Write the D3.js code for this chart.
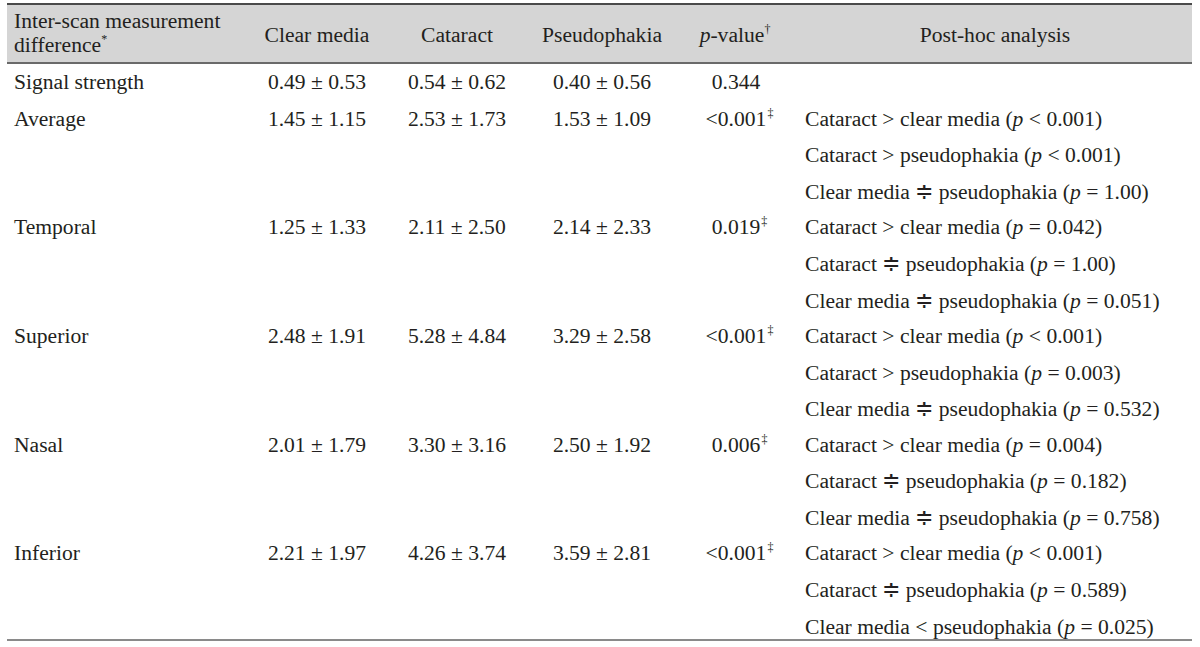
<!DOCTYPE html>
<html>
<head>
<meta charset="utf-8">
<script src="https://cdn.jsdelivr.net/npm/d3@7"></script>
<style>
  html, body { margin: 0; padding: 0; background: #fff; }
  svg { display: block; }
  text { font-family: "Liberation Serif", "Times New Roman", serif; fill: #231f20; }
</style>
</head>
<body>
<svg id="chart" width="1200" height="647"></svg>
<script>
// ---- data ----
const columns = ["Clear media", "Cataract", "Pseudophakia"];
const parameters = ["Signal strength", "Average", "Temporal", "Superior", "Nasal", "Inferior"];
const clearMean = [0.49, 1.45, 1.25, 2.48, 2.01, 2.21];
const clearSD   = [0.53, 1.15, 1.33, 1.91, 1.79, 1.97];
const catMean   = [0.54, 2.53, 2.11, 5.28, 3.30, 4.26];
const catSD     = [0.62, 1.73, 2.50, 4.84, 3.16, 3.74];
const pseudoMean = [0.40, 1.53, 2.14, 3.29, 2.50, 3.59];
const pseudoSD   = [0.56, 1.09, 2.33, 2.58, 1.92, 2.81];
const pValues = ["0.344", "<0.001", "0.019", "<0.001", "0.006", "<0.001"];
const pMark   = ["", "\u2021", "\u2021", "\u2021", "\u2021", "\u2021"];
const postHoc = [
  [],
  ["Cataract > clear media (p < 0.001)", "Cataract > pseudophakia (p < 0.001)", "Clear media \u2251 pseudophakia (p = 1.00)"],
  ["Cataract > clear media (p = 0.042)", "Cataract \u2251 pseudophakia (p = 1.00)", "Clear media \u2251 pseudophakia (p = 0.051)"],
  ["Cataract > clear media (p < 0.001)", "Cataract > pseudophakia (p = 0.003)", "Clear media \u2251 pseudophakia (p = 0.532)"],
  ["Cataract > clear media (p = 0.004)", "Cataract \u2251 pseudophakia (p = 0.182)", "Clear media \u2251 pseudophakia (p = 0.758)"],
  ["Cataract > clear media (p < 0.001)", "Cataract \u2251 pseudophakia (p = 0.589)", "Clear media < pseudophakia (p = 0.025)"]
];

// ---- layout ----
const svg = d3.select("#chart");
const FS = 21.6;
const left = 7, right = 1192;
const topY = 4, headBottom = 63, bottomY = 640;

const fmt = d3.format(".2f");
const cellText = (m, s) => fmt(m) + " \u00b1 " + fmt(s);

// row baseline positions
const rowY = i => i === 0 ? 89 : 125.5 + (i - 1) * 108.7;
const lineStep = 36.7;

const colX = { label: 14, clear: 317, cat: 457, pseudo: 602, p: 736, pHead: 735, post: 805, postHead: 995 };

// header band
svg.append("rect").attr("x", left).attr("y", topY).attr("width", right - left).attr("height", headBottom - topY)
  .attr("fill", "#d5d5d5");
svg.append("line").attr("x1", left).attr("x2", right).attr("y1", topY).attr("y2", topY)
  .attr("stroke", "#4a4a4a").attr("stroke-width", 2);
svg.append("line").attr("x1", left).attr("x2", right).attr("y1", headBottom).attr("y2", headBottom)
  .attr("stroke", "#6a6a6a").attr("stroke-width", 2);
svg.append("line").attr("x1", left).attr("x2", right).attr("y1", bottomY).attr("y2", bottomY)
  .attr("stroke", "#8a8a8a").attr("stroke-width", 2);

const g = svg.append("g").attr("font-size", FS);

// header texts
g.append("text").attr("x", colX.label).attr("y", 28).text("Inter-scan measurement");
const h2 = g.append("text").attr("x", colX.label).attr("y", 52);
h2.append("tspan").text("difference");
h2.append("tspan").attr("font-size", 12).attr("dy", -9).text("*");

const headY = 42;
g.append("text").attr("x", colX.clear).attr("y", headY).attr("text-anchor", "middle").text(columns[0]);
g.append("text").attr("x", colX.cat).attr("y", headY).attr("text-anchor", "middle").text(columns[1]);
g.append("text").attr("x", colX.pseudo).attr("y", headY).attr("text-anchor", "middle").text(columns[2]);
const ph = g.append("text").attr("x", colX.pHead).attr("y", headY).attr("text-anchor", "middle");
ph.append("tspan").attr("font-style", "italic").text("p");
ph.append("tspan").text("-value");
ph.append("tspan").attr("font-size", 12).attr("dy", -9).text("\u2020");
g.append("text").attr("x", colX.postHead).attr("y", headY).attr("text-anchor", "middle").text("Post-hoc analysis");

// body rows
parameters.forEach((name, i) => {
  const y = rowY(i);
  g.append("text").attr("x", colX.label).attr("y", y).text(name);
  g.append("text").attr("x", colX.clear).attr("y", y).attr("text-anchor", "middle").text(cellText(clearMean[i], clearSD[i]));
  g.append("text").attr("x", colX.cat).attr("y", y).attr("text-anchor", "middle").text(cellText(catMean[i], catSD[i]));
  g.append("text").attr("x", colX.pseudo).attr("y", y).attr("text-anchor", "middle").text(cellText(pseudoMean[i], pseudoSD[i]));
  const pt = g.append("text").attr("x", colX.p).attr("y", y).attr("text-anchor", "middle").text(pValues[i]);
  if (pMark[i]) {
    const bb = pt.node().getBBox();
    g.append("text").attr("x", bb.x + bb.width + 1).attr("y", y - 9).attr("font-size", 12).text(pMark[i]);
  }
  postHoc[i].forEach((line, k) => {
    const t = g.append("text").attr("x", colX.post).attr("y", y + k * lineStep);
    const idx = line.indexOf("(p ");
    t.append("tspan").text(line.slice(0, idx + 1));
    t.append("tspan").attr("font-style", "italic").text("p");
    t.append("tspan").text(line.slice(idx + 2));
  });
});
</script>
</body>
</html>
